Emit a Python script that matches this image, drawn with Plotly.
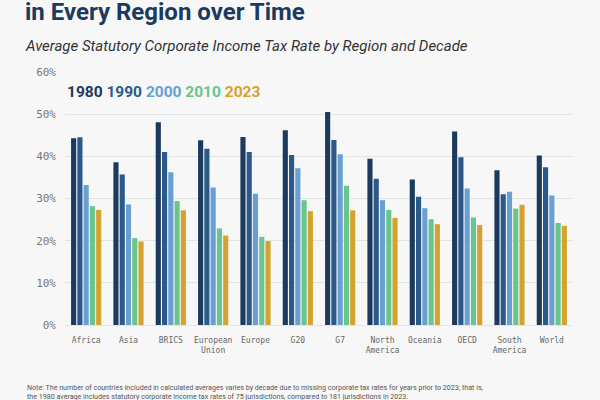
import plotly.graph_objects as go

regions = ["Africa", "Asia", "BRICS", "European<br>Union", "Europe", "G20", "G7",
           "North<br>America", "Oceania", "OECD", "South<br>America", "World"]
years = ["1980", "1990", "2000", "2010", "2023"]
v1980 = [44.3, 38.6, 48.1, 43.8, 44.6, 46.2, 50.5, 39.4, 34.5, 45.9, 36.7, 40.2]
v1990 = [44.5, 35.7, 41.0, 41.8, 41.0, 40.3, 43.9, 34.7, 30.4, 39.8, 31.0, 37.4]
v2000 = [33.2, 28.6, 36.2, 32.6, 31.1, 37.2, 40.5, 29.6, 27.7, 32.4, 31.6, 30.7]
v2010 = [28.2, 20.6, 29.4, 22.9, 20.9, 29.6, 33.0, 27.3, 25.1, 25.5, 27.6, 24.2]
v2023 = [27.3, 19.8, 27.2, 21.2, 19.9, 27.0, 27.2, 25.4, 23.9, 23.7, 28.5, 23.5]
series = [v1980, v1990, v2000, v2010, v2023]
colors = ["#1b3a5e", "#2b5a8a", "#6a9fd2", "#6ac58c", "#d4a32f"]

fig = go.Figure()
for yr, vals, c in zip(years, series, colors):
    fig.add_trace(go.Bar(x=regions, y=vals, name=yr, marker_color=c,
                         marker_line_width=0, showlegend=False))

bg = "#f7f7f7"
legend_text = " ".join(f'<span style="color:{c}">{y}</span>' for y, c in zip(years, colors))

fig.update_layout(
    width=600, height=400,
    paper_bgcolor=bg, plot_bgcolor=bg,
    margin=dict(l=65, r=27, t=72, b=75),
    barmode="group", bargap=0.26, bargroupgap=0.18,
    font=dict(family="Roboto", color="#333"),
    xaxis=dict(showgrid=False, showline=False, ticks="",
               tickfont=dict(family="DejaVu Sans Mono", size=8, color="#666"),
               ticklabelstandoff=9, fixedrange=True),
    yaxis=dict(range=[0, 60], dtick=10, ticksuffix="%", showgrid=True,
               gridcolor="#e2e5e5", gridwidth=1, zeroline=True, zerolinecolor="#e2e5e5",
               zerolinewidth=1, showline=False,
               tickfont=dict(family="DejaVu Sans Mono", size=11, color="#777"),
               ticklabelstandoff=8),
    annotations=[
        dict(text="<b>in Every Region over Time</b>", xref="paper", yref="paper",
             x=-0.0826, y=1.236, xanchor="left", yanchor="middle", showarrow=False,
             font=dict(family="Roboto", size=24, color="#1b3a5e")),
        dict(text="<i>Average Statutory Corporate Income Tax Rate by Region and Decade</i>",
             xref="paper", yref="paper", x=-0.0826, y=1.103, xanchor="left",
             yanchor="middle", showarrow=False,
             font=dict(family="Roboto", size=15, color="#333")),
        dict(text="<b>" + legend_text + "</b>", xref="paper", yref="paper",
             x=0.0, y=0.921, xanchor="left", yanchor="middle", showarrow=False,
             font=dict(family="Roboto", size=15.5)),
        dict(text="Note: The number of countries included in calculated averages varies by decade due to missing corporate tax rates for years prior to 2023; that is,<br>"
                  "the 1980 average includes statutory corporate income tax rates of 75 jurisdictions, compared to 181 jurisdictions in 2023.",
             xref="paper", yref="paper", x=-0.0787, y=-0.266, xanchor="left",
             yanchor="middle", align="left", showarrow=False,
             font=dict(family="Roboto", size=7.1, color="#555")),
    ],
)

fig.write_html("out.html", config={"displayModeBar": False},
               post_script="document.body.style.margin='0';document.body.style.background='#f7f7f7';")
